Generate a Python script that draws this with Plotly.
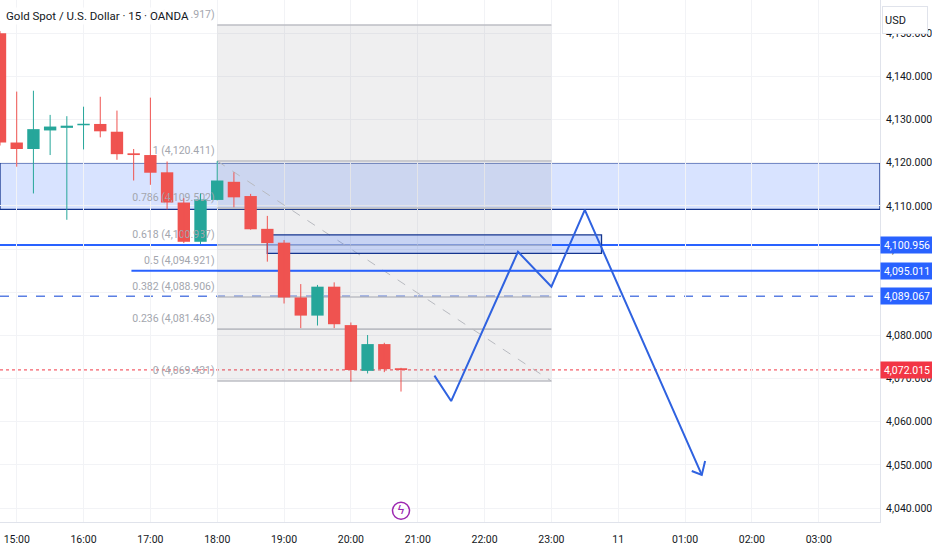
import plotly.graph_objects as go
import pandas as pd

FONT = "Roboto, sans-serif"

# ---- candles (15 min) ----
times = pd.date_range("2025-11-10 14:45", periods=25, freq="15min")
opens  = [4150.0, 4124.7, 4123.2, 4127.5, 4128.1, 4128.7, 4129.0, 4127.2, 4122.2, 4121.8,
          4117.8, 4110.8, 4101.7, 4111.4, 4115.6, 4112.3, 4104.7, 4101.5, 4088.8, 4084.6,
          4091.3, 4082.4, 4071.8, 4078.0, 4072.4]
highs  = [4150.5, 4136.5, 4136.7, 4131.1, 4130.8, 4133.0, 4135.3, 4132.1, 4123.2, 4135.1,
          4120.3, 4111.8, 4112.9, 4120.4, 4117.8, 4112.8, 4107.7, 4102.1, 4091.9, 4091.7,
          4092.3, 4083.0, 4080.1, 4078.3, 4072.5]
lows   = [4124.0, 4119.1, 4112.9, 4121.8, 4106.8, 4123.1, 4125.9, 4120.7, 4115.9, 4114.9,
          4109.2, 4101.4, 4101.2, 4111.3, 4109.7, 4104.5, 4097.1, 4087.4, 4081.7, 4082.3,
          4081.7, 4069.3, 4071.2, 4071.5, 4067.0]
closes = [4124.7, 4123.2, 4127.8, 4128.4, 4128.6, 4129.0, 4127.3, 4122.0, 4121.8, 4117.7,
          4110.8, 4101.7, 4111.5, 4115.9, 4112.0, 4104.6, 4101.4, 4088.8, 4084.6, 4091.3,
          4082.6, 4072.0, 4078.0, 4072.2, 4072.0]

# ---- fibonacci retracement ----
fib_start, fib_end = "2025-11-10 18:00", "2025-11-10 23:00"
fib_ratios = ["1.618", "1", "0.786", "0.618", "0.5", "0.382", "0.236", "0"]
fib_prices = [4151.917, 4120.411, 4109.502, 4100.937, 4094.921, 4088.906, 4081.463, 4069.431]
FIB_LABEL_LIFT = 1.1   # label offset above its level (price units, styling only)

# ---- zones / levels ----
zone_low, zone_high = 4109.2, 4120.0
small_zone = ("2025-11-10 18:45", "2025-11-10 23:45", 4099.0, 4103.3)
level_solid_full = 4100.956
level_solid_ray = (4095.011, "2025-11-10 16:43")
level_dashed = 4089.067
last_price = 4072.015

# ---- projected path ----
path_t = ["2025-11-10 21:15", "2025-11-10 21:30", "2025-11-10 22:30", "2025-11-10 23:00",
          "2025-11-10 23:30", "2025-11-11 01:15"]
path_p = [4070.7, 4064.8, 4099.4, 4091.3, 4109.1, 4047.7]
head_t = ["2025-11-11 01:06", "2025-11-11 01:15", "2025-11-11 01:18"]
head_p = [4048.6, 4047.7, 4050.9]

# ---- event marker ----
event_t = ["2025-11-10 20:45"]
event_p = [4039.4]

# ---- axes ----
x_range = ["2025-11-10 14:45", "2025-11-11 03:55"]
y_range = [4036.78, 4157.72]
x_tickvals = ["2025-11-10 15:00", "2025-11-10 16:00", "2025-11-10 17:00", "2025-11-10 18:00",
              "2025-11-10 19:00", "2025-11-10 20:00", "2025-11-10 21:00", "2025-11-10 22:00",
              "2025-11-10 23:00", "2025-11-11 00:00", "2025-11-11 01:00", "2025-11-11 02:00",
              "2025-11-11 03:00"]
x_ticktext = ["15:00", "16:00", "17:00", "18:00", "19:00", "20:00", "21:00", "22:00",
              "23:00", "11", "01:00", "02:00", "03:00"]

BLUE = "#2962ff"
NAVY = "#14358f"
RED = "#f23645"
UP = "#26a69a"
DOWN = "#ef5350"

fig = go.Figure()

# fib labels (below candles)
fig.add_trace(go.Scatter(
    x=[fib_start] * len(fib_prices), y=[p + FIB_LABEL_LIFT for p in fib_prices], mode="text",
    text=[f"{r} ({p:,.3f})\u00a0" for r, p in zip(fib_ratios, fib_prices)],
    textposition="top left",
    textfont=dict(family=FONT, size=10.5, color="#a3a6ae"),
    hoverinfo="skip", showlegend=False))

# candles: wicks + bodies
body_w = 15 * 60 * 1000 * 0.74
for is_up, col in [(True, UP), (False, DOWN)]:
    wx, wy = [], []
    bx, bbase, bh = [], [], []
    for t, o, h, l, c in zip(times, opens, highs, lows, closes):
        if (c >= o) != is_up:
            continue
        wx += [t, t, None]
        wy += [l, h, None]
        bx.append(t)
        bbase.append(min(o, c))
        bh.append(max(abs(c - o), 0.35))
    fig.add_trace(go.Scatter(x=wx, y=wy, mode="lines", line=dict(color=col, width=1),
                             hoverinfo="skip", showlegend=False))
    fig.add_trace(go.Bar(x=bx, y=bh, base=bbase, width=body_w,
                         marker=dict(color=col, line=dict(width=0)),
                         hoverinfo="skip", showlegend=False))

fig.add_trace(go.Scatter(
    x=path_t, y=path_p, mode="lines", line=dict(color="#2f62e0", width=2),
    hoverinfo="skip", showlegend=False))
fig.add_trace(go.Scatter(
    x=head_t, y=head_p, mode="lines", line=dict(color="#2f62e0", width=2),
    hoverinfo="skip", showlegend=False))

fig.add_trace(go.Scatter(
    x=event_t, y=event_p, mode="markers+text", text=["ϟ"], textposition="middle center",
    textfont=dict(size=12, color="#9c27b0"),
    marker=dict(symbol="circle-open", size=17, color="#9c27b0", line=dict(width=1.5)),
    hoverinfo="skip", showlegend=False))

shapes = []
# supply zone (drawn first so the fib box sits over it)
shapes.append(dict(type="rect", xref="paper", yref="y", x0=0, x1=1, y0=zone_low, y1=zone_high,
                   fillcolor="rgba(41,98,255,0.18)", line=dict(color=NAVY, width=1.3),
                   layer="between"))
# fib box
shapes.append(dict(type="rect", xref="x", yref="y", x0=fib_start, x1=fib_end,
                   y0=fib_prices[-1], y1=fib_prices[0], fillcolor="rgba(120,123,134,0.12)",
                   line=dict(width=0), layer="between"))
for p in fib_prices:
    shapes.append(dict(type="line", xref="x", yref="y", x0=fib_start, x1=fib_end,
                       y0=p, y1=p, line=dict(color="#bcbec4", width=1.6), layer="between"))
shapes.append(dict(type="line", xref="x", yref="y", x0=fib_start, x1=fib_end,
                   y0=fib_prices[1], y1=fib_prices[-1],
                   line=dict(color="#b8bac0", width=1, dash="dash"), layer="between"))
# small zone and levels
shapes.append(dict(type="rect", xref="x", yref="y", x0=small_zone[0], x1=small_zone[1],
                   y0=small_zone[2], y1=small_zone[3], fillcolor="rgba(41,98,255,0.2)",
                   line=dict(color=NAVY, width=1.3), layer="between"))
shapes.append(dict(type="line", xref="paper", yref="y", x0=0, x1=1,
                   y0=level_solid_full, y1=level_solid_full,
                   line=dict(color=BLUE, width=2), layer="between"))
shapes.append(dict(type="line", xref="x", yref="y", x0=level_solid_ray[1], x1=x_range[1],
                   y0=level_solid_ray[0], y1=level_solid_ray[0],
                   line=dict(color=BLUE, width=2), layer="between"))
shapes.append(dict(type="line", xref="paper", yref="y", x0=0, x1=1,
                   y0=level_dashed, y1=level_dashed,
                   line=dict(color="#5b7fe3", width=1.5, dash="dash"), layer="between"))
shapes.append(dict(type="line", xref="paper", yref="y", x0=0, x1=1,
                   y0=last_price, y1=last_price,
                   line=dict(color=RED, width=1, dash="dot"), layer="between"))

annotations = [
    dict(xref="paper", yref="paper", x=0, y=1, xanchor="left", yanchor="top",
         xshift=4, yshift=-7, text="Gold Spot / U.S. Dollar · 15 · OANDA", showarrow=False,
         font=dict(family=FONT, size=11.5, color="#131722"), bgcolor="rgba(255,255,255,0.92)",
         borderpad=1),
    dict(xref="paper", yref="paper", x=1, y=1, xanchor="left", yanchor="top",
         xshift=2, yshift=-6, text="USD", showarrow=False, width=40, height=22, align="left",
         font=dict(family=FONT, size=11, color="#131722"), bgcolor="#ffffff",
         bordercolor="#e0e3eb", borderwidth=1, borderpad=2),
]
for p, col in [(level_solid_full, BLUE), (level_solid_ray[0], BLUE),
               (level_dashed, BLUE), (last_price, RED)]:
    annotations.append(dict(xref="paper", yref="y", x=1, y=p, xanchor="left", yanchor="middle",
                            text=f"{p:,.3f}", showarrow=False, width=50, height=14,
                            font=dict(family=FONT, size=10.5, color="#ffffff"),
                            bgcolor=col, borderpad=1))

fig.update_layout(
    width=932, height=550, margin=dict(l=0, r=52, t=0, b=28, autoexpand=False),
    paper_bgcolor="#ffffff", plot_bgcolor="#ffffff",
    shapes=shapes, annotations=annotations, showlegend=False, hovermode=False,
    font=dict(family=FONT, size=10.5, color="#131722"),
    xaxis=dict(type="date", range=x_range, rangeslider=dict(visible=False),
               tickvals=x_tickvals, ticktext=x_ticktext, showgrid=True, automargin=False,
               gridcolor="#f2f3f6", showline=True, linecolor="#e0e3eb", linewidth=1,
               ticks="", ticklabelstandoff=7,
               tickfont=dict(family=FONT, size=10.5, color="#131722"),
               zeroline=False, fixedrange=True),
    yaxis=dict(side="right", range=y_range, tick0=4040, dtick=10, tickformat=",.3f",
               showgrid=True, gridcolor="#f2f3f6", showline=True, linecolor="#e0e3eb",
               ticks="", ticklabelstandoff=3, automargin=False,
               tickfont=dict(family=FONT, size=10.5, color="#131722"),
               zeroline=False, fixedrange=True),
)

fig.write_html("out.html", config={"displayModeBar": False, "staticPlot": True},
               post_script="document.body.style.margin='0';document.body.style.overflow='hidden';")
